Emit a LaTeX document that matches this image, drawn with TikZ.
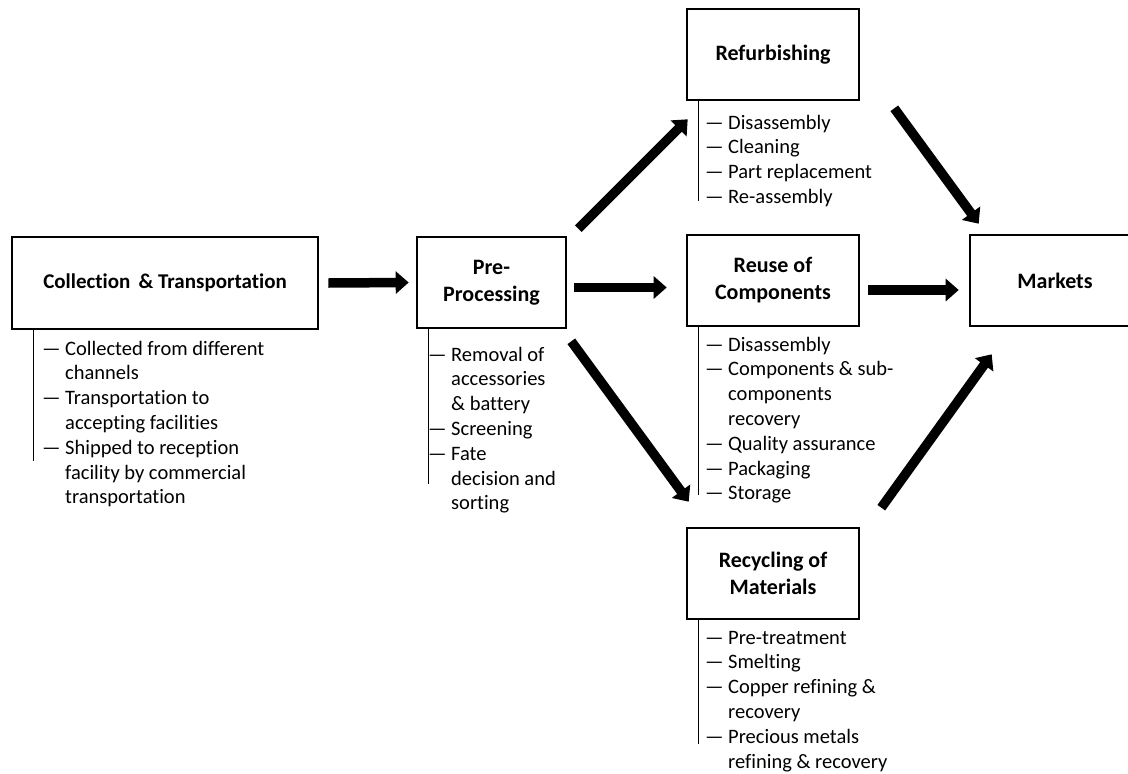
\documentclass[tikz,border=0pt]{standalone}
\usepackage{fontspec}
\setmainfont{Carlito}[Ligatures={TeX,NoCommon}]
\usetikzlibrary{arrows.meta}
\newcommand{\itemrow}[1]{\strut\makebox[23pt][l]{\textemdash}#1}
\newcommand{\wraprow}[1]{\strut\hspace*{23pt}#1}

\begin{document}
\begin{tikzpicture}[
    x=1pt, y=-1pt,
    >={Triangle[length=13pt, width=22pt]},
    every node/.style={font=\fontsize{20.5pt}{24.8pt}\selectfont},
    stage/.style  ={draw, line width=2.6pt, inner sep=0pt, align=center,
                    font=\fontsize{22pt}{27pt}\selectfont\bfseries,
                    minimum height=91pt},
    sublist/.style={anchor=north west, align=left, inner sep=0pt},
    stem/.style   ={line width=1.2pt},
    flow/.style   ={->, line width=9.5pt}
  ]
  \clip (0,0) rectangle (1128,774);

  %% --- Stages ---------------------------------------------------------
  \node[stage, minimum width=306pt, minimum height=92pt,
        font=\fontsize{21pt}{27pt}\selectfont\bfseries] (colbox) at (165,283)
      {Collection \,\& Transportation};
  \node[stage, minimum width=149pt] (prebox) at (491.5,282.5)
      {Pre-\\Processing};
  \node[stage, minimum width=172pt] (refbox) at (773,54.5) {Refurbishing};
  \node[stage, minimum width=172pt] (reubox) at (773,280.5)
      {Reuse of\\Components};
  \node[stage, minimum width=172pt] (recbox) at (773,573.5)
      {Recycling of\\Materials};
  \node[stage, minimum width=170pt] (mktbox) at (1055,280.5) {Markets};

  %% --- Activities listed under each stage -----------------------------
  \node[sublist] (collist) at (42,337.6)
      {\itemrow{Collected from different}\\
       \wraprow{channels}\\
       \itemrow{Transportation to}\\
       \wraprow{accepting facilities}\\
       \itemrow{Shipped to reception}\\
       \wraprow{facility by commercial}\\
       \wraprow{transportation}};
  \node[sublist] (prelist) at (428,343.6)
      {\itemrow{Removal of}\\
       \wraprow{accessories}\\
       \wraprow{\& battery}\\
       \itemrow{Screening}\\
       \itemrow{Fate}\\
       \wraprow{decision and}\\
       \wraprow{sorting}};
  \node[sublist] (reflist) at (705,111.6)
      {\itemrow{Disassembly}\\
       \itemrow{Cleaning}\\
       \itemrow{Part replacement}\\
       \itemrow{Re-assembly}};
  \node[sublist] (reulist) at (705,333.6)
      {\itemrow{Disassembly}\\
       \itemrow{Components \& sub-}\\
       \wraprow{components}\\
       \wraprow{recovery}\\
       \itemrow{Quality assurance}\\
       \itemrow{Packaging}\\
       \itemrow{Storage}};
  \node[sublist] (reclist) at (705,626.6)
      {\itemrow{Pre-treatment}\\
       \itemrow{Smelting}\\
       \itemrow{Copper refining \&}\\
       \wraprow{recovery}\\
       \itemrow{Precious metals}\\
       \wraprow{refining \& recovery}};

  %% --- Stems hanging from the boxes -----------------------------------
  \draw[stem] ([xshift=23pt]colbox.south west) -- ++(0,131);
  \draw[stem] ([xshift=13pt]prebox.south west) -- ++(0,155);
  \draw[stem] ([xshift=13pt]refbox.south west) -- ++(0,100);
  \draw[stem] ([xshift=13pt]reubox.south west) -- ++(0,168);
  \draw[stem] ([xshift=13pt]recbox.south west) -- ++(0,124);

  %% --- Flow between stages --------------------------------------------
  \draw[flow] ([xshift=9pt]colbox.east) -- ([xshift=-7pt]prebox.west);
  \draw[flow] ([shift={(7pt,-5pt)}]prebox.east)
      -- ([shift={(-19pt,-7pt)}]reubox.west);
  \draw[flow] ([shift={(11pt,7pt)}]prebox.north east)
      -- ([shift={(2pt,-18pt)}]refbox.south west);
  \draw[flow] ([shift={(4pt,-12pt)}]prebox.south east)
      -- ([shift={(3pt,25pt)}]recbox.north west);
  \draw[flow] ([shift={(34pt,-7pt)}]refbox.south east)
      -- ([shift={(10pt,10pt)}]mktbox.north west);
  \draw[flow] ([shift={(8pt,-9.5pt)}]reubox.east)
      -- ([shift={(-10pt,-9.5pt)}]mktbox.west);
  \draw[flow] ([shift={(21pt,19pt)}]recbox.north east)
      -- ([shift={(23pt,-27pt)}]mktbox.south west);
\end{tikzpicture}
\end{document}
